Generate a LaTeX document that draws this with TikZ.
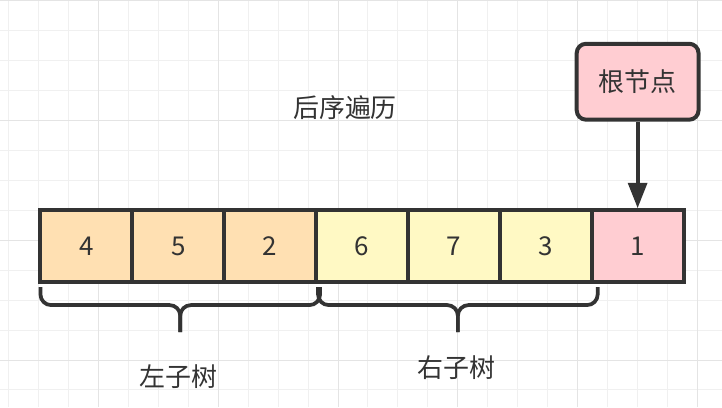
\documentclass[tikz,border=0pt]{standalone}
\usepackage{fontspec}
\setmainfont{Noto Sans CJK SC}
\usepackage{tikz}
\usepackage{xcolor}
\usetikzlibrary{positioning,arrows.meta}
\definecolor{ink}{HTML}{333333}
\definecolor{leftfill}{HTML}{FFE0B2}
\definecolor{rightfill}{HTML}{FFF9C4}
\definecolor{rootfill}{HTML}{FFCDD2}
\definecolor{gridminor}{HTML}{F0F0F0}
\definecolor{gridmajor}{HTML}{E4E4E4}
\tikzstyle{cell} = [rectangle, draw=ink, line width=3pt, minimum width=69pt, minimum height=54pt, text=ink, font=\fontsize{19.5pt}{23pt}\selectfont]
\tikzstyle{lcell} = [cell, fill=leftfill]
\tikzstyle{rcell} = [cell, fill=rightfill]
\tikzstyle{rootcell} = [cell, fill=rootfill]
\tikzstyle{top} = [cell, fill=rootfill, rounded corners=7pt, minimum width=91.5pt, minimum height=57pt]
\tikzstyle{lbl} = [draw=none, text=ink, font=\fontsize{19.5pt}{23pt}\selectfont]
\tikzstyle{brace} = [draw=ink, line width=2.8pt, rounded corners=8pt]

\begin{document}
\begin{tikzpicture}[x=0.75pt,y=-0.75pt,>={Triangle[length=19pt,width=14pt]},node distance=69pt]
  % background grid
  \fill[white] (0,0) rectangle (722,407);
  \foreach \x in {8,38,...,698} \draw[gridminor,line width=0.75pt] (\x,0) -- (\x,407);
  \foreach \y in {0,30,...,390} \draw[gridminor,line width=0.75pt] (0,\y) -- (722,\y);
  \foreach \x in {98,218,...,698} \draw[gridmajor,line width=0.75pt] (\x,0) -- (\x,407);
  \foreach \y in {0,120,...,360} \draw[gridmajor,line width=0.75pt] (0,\y) -- (722,\y);
  \useasboundingbox (0,0) rectangle (722,407);

  \node[lbl] (title) at (345,107) {后序遍历};

  \node[lcell] (n4) at (86,246) {4};
  \node[lcell] (n5) [right of=n4] {5};
  \node[lcell] (n2) [right of=n5] {2};
  \node[rcell] (n6) [right of=n2] {6};
  \node[rcell] (n7) [right of=n6] {7};
  \node[rcell] (n3) [right of=n7] {3};
  \node[rootcell] (n1) [right of=n3] {1};
  \node[top] (root) [above=65pt of n1] {根节点};

  \path (root) edge[->, draw=ink, line width=3pt] (n1);

  % braces
  \draw[brace] (40,287) -- (40,305) -- (180,305) -- (180,332);
  \draw[brace] (320,287) -- (320,305) -- (180,305) -- (180,332);
  \draw[brace] (318,287) -- (318,305) -- (458,305) -- (458,332);
  \draw[brace] (598,287) -- (598,305) -- (458,305) -- (458,332);

  \node[lbl] (lefttree) at (178,377) {左子树};
  \node[lbl] (righttree) at (457,368) {右子树};
\end{tikzpicture}
\end{document}
